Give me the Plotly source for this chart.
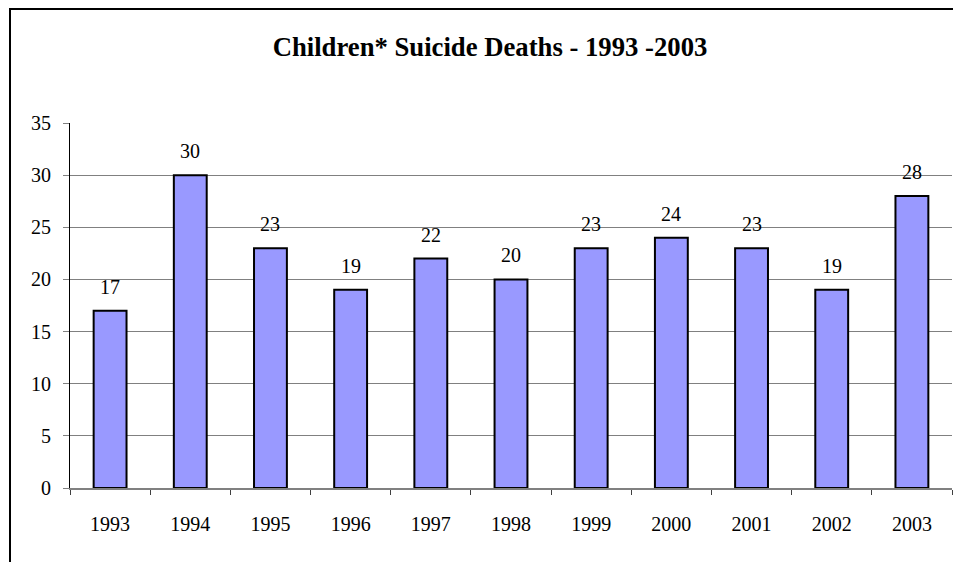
import plotly.graph_objects as go

years = ["1993", "1994", "1995", "1996", "1997", "1998", "1999", "2000", "2001", "2002", "2003"]
deaths = [17, 30, 23, 19, 22, 20, 23, 24, 23, 19, 28]
y_ticks = [0, 5, 10, 15, 20, 25, 30, 35]

serif = "Liberation Serif, Times New Roman, serif"

fig = go.Figure()
fig.add_trace(go.Bar(
    x=years, y=deaths,
    width=0.41,
    marker=dict(color="#9999FF", line=dict(color="black", width=2)),
    hoverinfo="x+y",
))

# value labels sit well above each bar, like the excel chart
# (x as category index - year strings get read as numbers otherwise)
for i, v in enumerate(deaths):
    fig.add_annotation(x=i, y=v, text=str(v), showarrow=False,
                       yanchor="middle", yshift=24,
                       font=dict(family=serif, size=20, color="black"))

# page has an 8px body margin, so figure is 8px smaller than the window
W, H = 953, 554
l, r, t, b = 62, 9, 115, 74
pw, ph = W - l - r, H - t - b
def px(xp):
    return (xp - l) / pw
def py(yp):
    return (H - b - yp) / ph

# outer chart border (clipped on right/bottom in the original)
fig.add_shape(type="line", xref="paper", yref="paper",
              x0=px(2), x1=px(970), y0=py(1), y1=py(1),
              line=dict(color="black", width=2))
fig.add_shape(type="line", xref="paper", yref="paper",
              x0=px(2), x1=px(2), y0=py(0), y1=py(570),
              line=dict(color="black", width=2))

fig.update_layout(
    width=W, height=H,
    margin=dict(l=l, r=r, t=t, b=b),
    paper_bgcolor="white", plot_bgcolor="white",
    showlegend=False,
    title=dict(text="<b>Children* Suicide Deaths - 1993 -2003</b>",
               x=482 / W, xanchor="center", y=1 - 39 / H, yanchor="middle",
               font=dict(family=serif, size=26.7, color="black")),
    xaxis=dict(type="category", tickson="boundaries",
               range=[-0.5, len(years) - 0.5], autorange=False,
               ticks="outside", ticklen=5, tickcolor="#404040",
               showline=True, linecolor="#808080", linewidth=2,
               showgrid=False, ticklabelstandoff=17, tickangle=0,
               tickfont=dict(family=serif, size=20, color="black")),
    yaxis=dict(range=[0, 35], tickvals=y_ticks,
               ticks="outside", ticklen=6, tickcolor="#808080",
               showline=True, linecolor="black", linewidth=1,
               showgrid=True, gridcolor="#808080", gridwidth=1,
               zeroline=False, ticklabelstandoff=8,
               tickfont=dict(family=serif, size=20, color="black")),
)

fig.write_html("out.html")
